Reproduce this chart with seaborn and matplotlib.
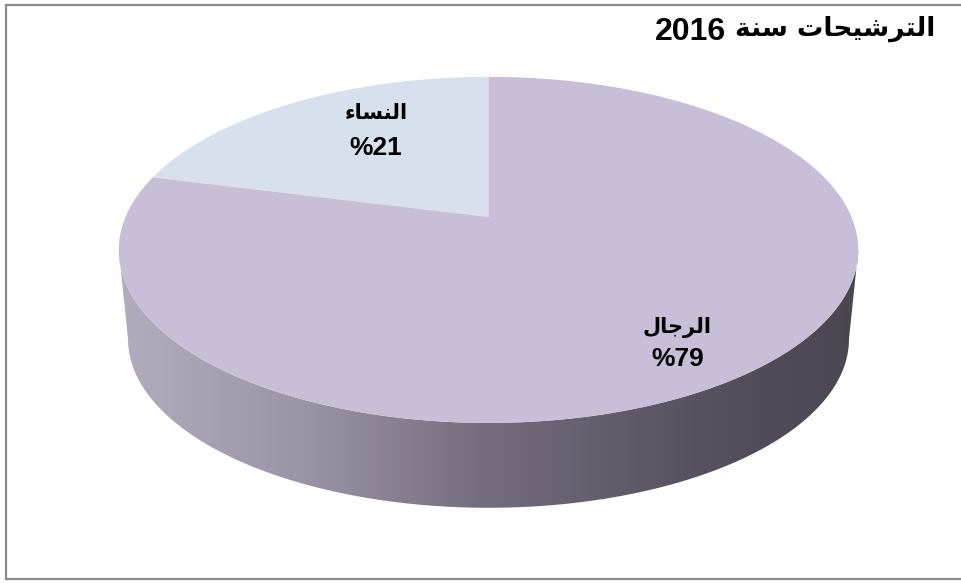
import numpy as np
import matplotlib
matplotlib.use("Agg")
import matplotlib.pyplot as plt
import seaborn as sns
from matplotlib.path import Path
from matplotlib import transforms as mtransforms
from matplotlib.patches import Polygon
from matplotlib.colors import LinearSegmentedColormap

# ---------------- data ----------------
title_words = "الترشيحات سنة"
title_year = "2016"
categories = ["النساء", "الرجال"]
values = [21, 79]
slice_colors = ["#d8e0ee", "#c8bed7"]

# ---------------- Arabic shaping (presentation forms, visual order) ----------------
FORMS = {
    "ا": ("\uFE8D", "\uFE8E", None, None),
    "ل": ("\uFEDD", "\uFEDE", "\uFEDF", "\uFEE0"),
    "ت": ("\uFE95", "\uFE96", "\uFE97", "\uFE98"),
    "ر": ("\uFEAD", "\uFEAE", None, None),
    "ش": ("\uFEB5", "\uFEB6", "\uFEB7", "\uFEB8"),
    "ي": ("\uFEF1", "\uFEF2", "\uFEF3", "\uFEF4"),
    "ح": ("\uFEA1", "\uFEA2", "\uFEA3", "\uFEA4"),
    "س": ("\uFEB1", "\uFEB2", "\uFEB3", "\uFEB4"),
    "ن": ("\uFEE5", "\uFEE6", "\uFEE7", "\uFEE8"),
    "ة": ("\uFE93", "\uFE94", None, None),
    "ء": ("\uFE80", None, None, None),
    "ج": ("\uFE9D", "\uFE9E", "\uFE9F", "\uFEA0"),
}


def shape_word(w):
    if not any(c in FORMS for c in w):
        return w
    out = []
    for i, ch in enumerate(w):
        f = FORMS.get(ch)
        if f is None:
            out.append(ch)
            continue
        prev = w[i - 1] if i > 0 else None
        nxt = w[i + 1] if i + 1 < len(w) else None
        jp = prev in FORMS and FORMS[prev][2] is not None
        jn = nxt in FORMS and f[2] is not None and FORMS[nxt][1] is not None
        if jp and jn:
            g = f[3]
        elif jp:
            g = f[1] or f[0]
        elif jn:
            g = f[2]
        else:
            g = f[0]
        out.append(g)
    return "".join(reversed(out))


def visual(s):
    return " ".join(shape_word(t) for t in reversed(s.split(" ")))


# ---------------- perspective transform for the pie top ----------------
class Persp(mtransforms.Transform):
    input_dims = 2
    output_dims = 2
    is_separable = False
    has_inverse = False

    def __init__(self, x0, y0, s, t, k):
        super().__init__()
        self.x0, self.y0, self.s, self.t, self.k = x0, y0, s, t, k

    def transform_non_affine(self, xy):
        xy = np.asarray(xy, float).reshape(-1, 2)
        u, v = xy[:, 0], xy[:, 1]
        w = 1 + self.k * v
        return np.column_stack([self.x0 + self.s * u / w, self.y0 - self.t * v / w])

    def transform_path_non_affine(self, path):
        verts, codes = [], []
        for seg, code in path.iter_bezier():
            cp = seg.control_points
            if code == Path.MOVETO:
                verts.append(cp[0])
                codes.append(Path.MOVETO)
            else:
                ts = np.linspace(0, 1, 30)[1:]
                pts = seg(ts)
                verts.extend(pts)
                codes.extend([Path.LINETO] * len(pts))
        return Path(self.transform_non_affine(np.array(verts)), codes)


K = 0.19
X0 = 488.5
TOP_Y0 = 217.0
S = 363.0
T = 166.8
SC = 0.975
BOT_Y0 = 307.0

persp_top = Persp(X0, TOP_Y0, S, T, K)


def ellipse_params(y0, s, t, k):
    a = s / np.sqrt(1 - k * k)
    b = t / (1 - k * k)
    cy = y0 + t * k / (1 - k * k)
    return a, b, cy


# ---------------- figure ----------------
sns.set_theme(style="white")
plt.rcParams["font.family"] = ["Liberation Sans", "DejaVu Sans"]
AR_FONT = ["DejaVu Sans"]
NUM_FONT = ["Liberation Sans", "DejaVu Sans"]

fig = plt.figure(figsize=(9.62, 5.83), dpi=100)
fig.patch.set_facecolor("white")
ax = fig.add_axes([0, 0, 1, 1])

# pie top face
wedges, _ = ax.pie(values, colors=slice_colors, startangle=90, counterclock=True,
                   wedgeprops=dict(linewidth=0, edgecolor="none"))
for w in wedges:
    w.set_transform(persp_top + ax.transData)
    w.set_zorder(3)

# side wall
a1, b1, cy1 = ellipse_params(TOP_Y0, S, T, K)
a2, b2, cy2 = ellipse_params(BOT_Y0, S * SC, T * SC, K)
phi = np.linspace(np.pi, 2 * np.pi, 200)
top_arc = np.column_stack([X0 + a1 * np.cos(phi), cy1 - b1 * np.sin(phi)])
bot_arc = np.column_stack([X0 + a2 * np.cos(phi[::-1]), cy2 - b2 * np.sin(phi[::-1])])
side_pts = np.vstack([top_arc, bot_arc])
side_poly = Polygon(side_pts, closed=True, transform=ax.transData,
                    facecolor="none", edgecolor="none")
ax.add_patch(side_poly)

side_cmap = LinearSegmentedColormap.from_list(
    "side",
    [(0.0, "#b2acbd"), (0.25, "#9b94a7"), (0.5, "#746c7c"),
     (0.72, "#5d5766"), (0.87, "#514c58"), (1.0, "#4b4751")])
grad = np.linspace(0, 1, 512).reshape(1, -1)
im = ax.imshow(grad, cmap=side_cmap, aspect="auto", interpolation="bilinear",
               extent=(X0 - a1, X0 + a1, cy2 + b2 + 2, cy1 - 2), zorder=1)
im.set_clip_path(side_poly)

ax.set_xlim(0, 962)
ax.set_ylim(583, 0)
ax.set_aspect("auto")
ax.axis("off")

# labels
ar_kw = dict(ha="center", va="center", fontsize=15, fontweight="bold",
             color="#000000", zorder=5, family=AR_FONT)
num_kw = dict(ha="center", va="center", fontsize=19, fontweight="bold",
              color="#000000", zorder=5, family=NUM_FONT)
ax.text(376, 113, visual(categories[0]), **ar_kw)
ax.text(376, 148, f"%{values[0]}", **num_kw)
ax.text(677, 327, visual(categories[1]), **ar_kw)
ax.text(678, 359, f"%{values[1]}", **num_kw)

# title: Arabic words (right) + year (left)
t_ar = ax.text(935, 29, visual(title_words), ha="right", va="center", fontsize=19,
               fontweight="bold", color="#000000", zorder=5, family=AR_FONT)
fig.canvas.draw()
bb = t_ar.get_window_extent()
left_px = min(bb.x0, bb.x1)
left_x = ax.transData.inverted().transform((left_px, bb.y0))[0]
ax.text(left_x - 9, 32, title_year, ha="right", va="center", fontsize=23,
        fontweight="bold", color="#000000", zorder=5, family=NUM_FONT)

# chart border
bcol = "#8a8a8a"
ax.plot([6, 6], [5, 579], color=bcol, lw=1.6, solid_capstyle="projecting", zorder=6)
ax.plot([6, 962], [5, 5], color=bcol, lw=1.6, zorder=6)
ax.plot([6, 962], [579, 579], color=bcol, lw=1.6, zorder=6)

ax.set_xlim(0, 962)
ax.set_ylim(583, 0)

fig.savefig("out.png", dpi=100, facecolor="white")
